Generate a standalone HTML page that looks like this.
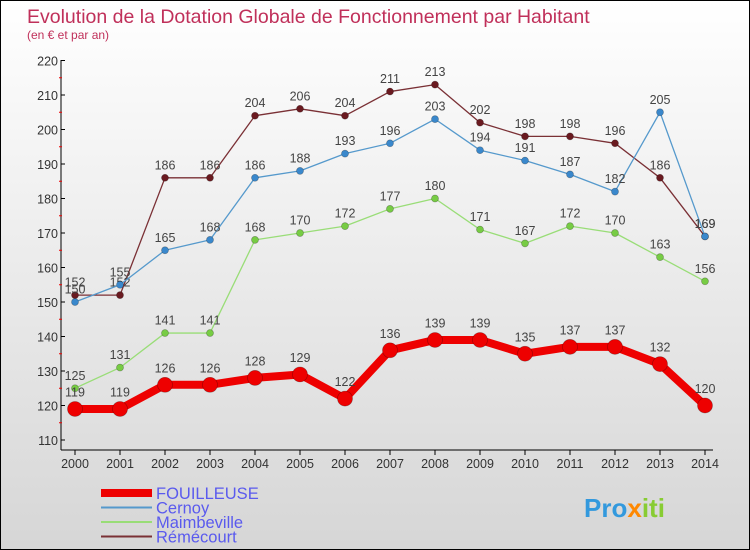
<!DOCTYPE html>
<html><head><meta charset="utf-8"><style>
html,body{margin:0;padding:0}
body{width:750px;height:550px;overflow:hidden;font-family:"Liberation Sans",sans-serif}
#wrap{position:relative;width:748px;height:548px;border:1px solid #000;background:linear-gradient(#ffffff,#d6d6d6)}
svg{position:absolute;left:0;top:0}
</style></head><body>
<div id="wrap">
<svg id="chart" width="748" height="548"></svg>
</div>
<script>
const years=[2000,2001,2002,2003,2004,2005,2006,2007,2008,2009,2010,2011,2012,2013,2014];
const fouilleuse=[119,119,126,126,128,129,122,136,139,139,135,137,137,132,120];
const cernoy=[150,155,165,168,186,188,193,196,203,194,191,187,182,205,169];
const maimbeville=[125,131,141,141,168,170,172,177,180,171,167,172,170,163,156];
const remecourt=[152,152,186,186,204,206,204,211,213,202,198,198,196,186,169];
const yTicks=[110,120,130,140,150,160,170,180,190,200,210,220];
const NS="http://www.w3.org/2000/svg";
const svg=document.getElementById('chart');
function X(i){return 74+i*45;}
function Y(v){return 439-(v-110)*3.45;}
function mk(t,a,parent){const e=document.createElementNS(NS,t);for(const k in a)e.setAttribute(k,a[k]);(parent||svg).appendChild(e);return e;}
function txt(x,y,s,a){const e=mk('text',Object.assign({x:x,y:y},a));e.textContent=s;return e;}
let t=txt(26,22,'Evolution de la Dotation Globale de Fonctionnement par Habitant',{fill:'#c0305a','font-size':'19.5'});


t=txt(26,38,'(en € et par an)',{fill:'#c0305a','font-size':'12'});


let ax=mk('line',{x1:60,y1:59,x2:60,y2:449,stroke:'#000','stroke-width':1});


ax=mk('line',{x1:60,y1:449,x2:712,y2:449,stroke:'#000','stroke-width':1});


yTicks.forEach((v,i)=>{
 mk('line',{x1:60,y1:Y(v),x2:64,y2:Y(v),stroke:'#000'});
 if(i<yTicks.length-1) mk('line',{x1:58,y1:Y(v+5),x2:61,y2:Y(v+5),stroke:'#e00'});
 const l=txt(57,Y(v)+5,String(v),{fill:'#333','font-size':'12.5','text-anchor':'end'});
 
 
});
years.forEach((yr,i)=>{
 mk('line',{x1:X(i),y1:449,x2:X(i),y2:454,stroke:'#000'});
 const l=txt(X(i),467,String(yr),{fill:'#333','font-size':'12.5','text-anchor':'middle'});
 
 
});
function series(vals,color,dot,w,r,name){
 const g=mk('g',{});
 
 
 const pts=vals.map((v,i)=>X(i)+','+Y(v)).join(' ');
 mk('polyline',{points:pts,fill:'none',stroke:color,'stroke-width':w,'stroke-linejoin':'round'},g);
 vals.forEach((v,i)=>{
  const c=mk('circle',{cx:X(i),cy:Y(v),r:r,fill:dot,stroke:'rgba(0,0,0,0.3)','stroke-width':0.7},g);
  
  
  const l=txt(X(i),Y(v)-(r+5),String(v),{fill:'#444','font-size':'12.5','text-anchor':'middle'},g);
  
  
 });
}
series(remecourt,'#7a3035','#6a1a20',1.3,3.5,'remecourt');
series(maimbeville,'#99dd77','#77cc44',1.3,3.5,'maimbeville');
series(cernoy,'#5599cc','#3a88cc',1.3,3.5,'cernoy');
series(fouilleuse,'#ee0000','#ee0000',8,7.5,'fouilleuse');
const leg=[['FOUILLEUSE','#ee0000',8],['Cernoy','#5599cc',2],['Maimbeville','#99dd77',2],['Rémécourt','#7a3035',2]];
leg.forEach((e,i)=>{
 const g=mk('g',{});
 
 
 const y=492+i*14.5;
 mk('line',{x1:100,y1:y,x2:151,y2:y,stroke:e[1],'stroke-width':e[2]},g);
 txt(155,y+6,e[0],{fill:'#5a5aee','font-size':'16.5'},g);
});
const lg=txt(583,516,'',{'font-size':'26','font-weight':'bold'});


[['Pro','#3399dd'],['x','#ff8800'],['iti','#88cc33']].forEach(p=>{const s=document.createElementNS(NS,'tspan');s.setAttribute('fill',p[1]);s.textContent=p[0];lg.appendChild(s);});
</script>
</body></html>
